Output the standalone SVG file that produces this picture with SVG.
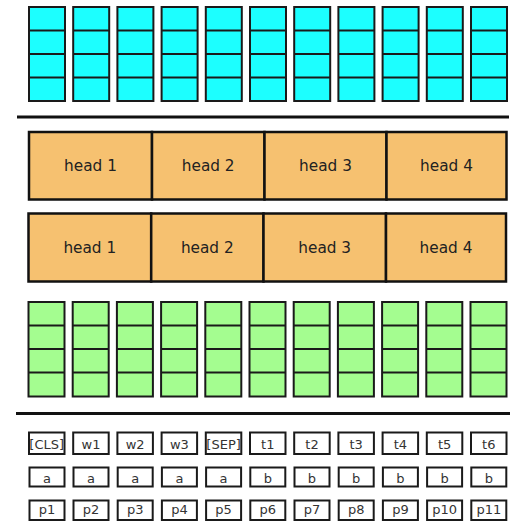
<svg xmlns="http://www.w3.org/2000/svg" width="511" height="525" viewBox="0 0 511 525">
<defs>
<style>
.cy{fill:#1cffff;stroke:#1a1a1a;stroke-width:2}
.gr{fill:#a4fd90;stroke:#1a1a1a;stroke-width:2}
.ln{stroke:#1a1a1a;stroke-width:2}
.hd{fill:#f6c170;stroke:#111;stroke-width:2.5}
.tk{fill:#fff;stroke:#1a1a1a;stroke-width:2}
.ht{font-family:"DejaVu Sans",sans-serif;font-size:15.3px;fill:#222;text-anchor:middle}
.tt{font-family:"DejaVu Sans",sans-serif;font-size:13px;fill:#333;text-anchor:middle}
.sep{stroke:#111;stroke-width:3}
</style>
<g id="cyancol">
<rect class="cy" x="0" y="0" width="36" height="94"/>
<path class="ln" d="M0 23.5H36M0 47H36M0 70.5H36"/>
</g>
<g id="greencol">
<rect class="gr" x="0" y="0" width="36" height="94.5"/>
<path class="ln" d="M0 23.5H36M0 47H36M0 70.5H36"/>
</g>
</defs>
<rect width="511" height="525" fill="#fff"/>
<g id="cyan-layer">
<use id="c1" href="#cyancol" x="29" y="7"/>
<use id="c2" href="#cyancol" x="73.2" y="7"/>
<use id="c3" href="#cyancol" x="117.4" y="7"/>
<use id="c4" href="#cyancol" x="161.6" y="7"/>
<use id="c5" href="#cyancol" x="205.8" y="7"/>
<use id="c6" href="#cyancol" x="250" y="7"/>
<use id="c7" href="#cyancol" x="294.2" y="7"/>
<use id="c8" href="#cyancol" x="338.4" y="7"/>
<use id="c9" href="#cyancol" x="382.6" y="7"/>
<use id="c10" href="#cyancol" x="426.8" y="7"/>
<use id="c11" href="#cyancol" x="471" y="7"/>
</g>
<g id="separators">
<line class="sep" x1="17" y1="117" x2="509" y2="117"/>
<line class="sep" x1="16" y1="413.5" x2="510" y2="413.5"/>
</g>
<g id="heads-row1">
<g id="h1a"><rect class="hd" x="29" y="132" width="123" height="67.5"/><text class="ht" x="90.5" y="171">head 1</text></g>
<g id="h2a"><rect class="hd" x="152" y="132" width="112.5" height="67.5"/><text class="ht" x="208.2" y="171">head 2</text></g>
<g id="h3a"><rect class="hd" x="264.5" y="132" width="122" height="67.5"/><text class="ht" x="325.5" y="171">head 3</text></g>
<g id="h4a"><rect class="hd" x="386.5" y="132" width="120" height="67.5"/><text class="ht" x="446.5" y="171">head 4</text></g>
</g>
<g id="heads-row2">
<g id="h1b"><rect class="hd" x="28.5" y="213.5" width="122.7" height="68"/><text class="ht" x="89.8" y="252.5">head 1</text></g>
<g id="h2b"><rect class="hd" x="151.2" y="213.5" width="112.3" height="68"/><text class="ht" x="207.3" y="252.5">head 2</text></g>
<g id="h3b"><rect class="hd" x="263.5" y="213.5" width="122.5" height="68"/><text class="ht" x="324.7" y="252.5">head 3</text></g>
<g id="h4b"><rect class="hd" x="386" y="213.5" width="120" height="68"/><text class="ht" x="446" y="252.5">head 4</text></g>
</g>
<g id="green-layer">
<use id="g1" href="#greencol" x="28.5" y="302"/>
<use id="g2" href="#greencol" x="72.7" y="302"/>
<use id="g3" href="#greencol" x="116.9" y="302"/>
<use id="g4" href="#greencol" x="161.1" y="302"/>
<use id="g5" href="#greencol" x="205.3" y="302"/>
<use id="g6" href="#greencol" x="249.5" y="302"/>
<use id="g7" href="#greencol" x="293.7" y="302"/>
<use id="g8" href="#greencol" x="337.9" y="302"/>
<use id="g9" href="#greencol" x="382.1" y="302"/>
<use id="g10" href="#greencol" x="426.3" y="302"/>
<use id="g11" href="#greencol" x="470.5" y="302"/>
</g>
<g id="tokens">
<g id="t-cls"><rect class="tk" x="29" y="432.5" width="35.5" height="21.5"/><text class="tt" x="46.7" y="449">[CLS]</text></g>
<g id="t-w1"><rect class="tk" x="73.2" y="432.5" width="35.5" height="21.5"/><text class="tt" x="91" y="449">w1</text></g>
<g id="t-w2"><rect class="tk" x="117.4" y="432.5" width="35.5" height="21.5"/><text class="tt" x="135.2" y="449">w2</text></g>
<g id="t-w3"><rect class="tk" x="161.6" y="432.5" width="35.5" height="21.5"/><text class="tt" x="179.4" y="449">w3</text></g>
<g id="t-sep"><rect class="tk" x="205.8" y="432.5" width="35.5" height="21.5"/><text class="tt" x="223.6" y="449">[SEP]</text></g>
<g id="t-t1"><rect class="tk" x="250" y="432.5" width="35.5" height="21.5"/><text class="tt" x="267.8" y="449">t1</text></g>
<g id="t-t2"><rect class="tk" x="294.2" y="432.5" width="35.5" height="21.5"/><text class="tt" x="312" y="449">t2</text></g>
<g id="t-t3"><rect class="tk" x="338.4" y="432.5" width="35.5" height="21.5"/><text class="tt" x="356.2" y="449">t3</text></g>
<g id="t-t4"><rect class="tk" x="382.6" y="432.5" width="35.5" height="21.5"/><text class="tt" x="400.4" y="449">t4</text></g>
<g id="t-t5"><rect class="tk" x="426.8" y="432.5" width="35.5" height="21.5"/><text class="tt" x="444.6" y="449">t5</text></g>
<g id="t-t6"><rect class="tk" x="471" y="432.5" width="35.5" height="21.5"/><text class="tt" x="488.8" y="449">t6</text></g>

<g id="s1"><rect class="tk" x="29.5" y="467.5" width="35" height="19"/><text class="tt" x="47" y="483">a</text></g>
<g id="s2"><rect class="tk" x="73.5" y="467.5" width="35" height="19"/><text class="tt" x="91" y="483">a</text></g>
<g id="s3"><rect class="tk" x="117.7" y="467.5" width="35" height="19"/><text class="tt" x="135.2" y="483">a</text></g>
<g id="s4"><rect class="tk" x="161.9" y="467.5" width="35" height="19"/><text class="tt" x="179.4" y="483">a</text></g>
<g id="s5"><rect class="tk" x="206.1" y="467.5" width="35" height="19"/><text class="tt" x="223.6" y="483">a</text></g>
<g id="s6"><rect class="tk" x="250.3" y="467.5" width="35" height="19"/><text class="tt" x="267.8" y="483">b</text></g>
<g id="s7"><rect class="tk" x="294.5" y="467.5" width="35" height="19"/><text class="tt" x="312" y="483">b</text></g>
<g id="s8"><rect class="tk" x="338.7" y="467.5" width="35" height="19"/><text class="tt" x="356.2" y="483">b</text></g>
<g id="s9"><rect class="tk" x="382.9" y="467.5" width="35" height="19"/><text class="tt" x="400.4" y="483">b</text></g>
<g id="s10"><rect class="tk" x="427.1" y="467.5" width="35" height="19"/><text class="tt" x="444.6" y="483">b</text></g>
<g id="s11"><rect class="tk" x="471.3" y="467.5" width="35" height="19"/><text class="tt" x="488.8" y="483">b</text></g>

<g id="p1"><rect class="tk" x="29.5" y="500.5" width="35" height="19.5"/><text class="tt" x="47" y="514">p1</text></g>
<g id="p2"><rect class="tk" x="73.5" y="500.5" width="35" height="19.5"/><text class="tt" x="91" y="514">p2</text></g>
<g id="p3"><rect class="tk" x="117.7" y="500.5" width="35" height="19.5"/><text class="tt" x="135.2" y="514">p3</text></g>
<g id="p4"><rect class="tk" x="161.9" y="500.5" width="35" height="19.5"/><text class="tt" x="179.4" y="514">p4</text></g>
<g id="p5"><rect class="tk" x="206.1" y="500.5" width="35" height="19.5"/><text class="tt" x="223.6" y="514">p5</text></g>
<g id="p6"><rect class="tk" x="250.3" y="500.5" width="35" height="19.5"/><text class="tt" x="267.8" y="514">p6</text></g>
<g id="p7"><rect class="tk" x="294.5" y="500.5" width="35" height="19.5"/><text class="tt" x="312" y="514">p7</text></g>
<g id="p8"><rect class="tk" x="338.7" y="500.5" width="35" height="19.5"/><text class="tt" x="356.2" y="514">p8</text></g>
<g id="p9"><rect class="tk" x="382.9" y="500.5" width="35" height="19.5"/><text class="tt" x="400.4" y="514">p9</text></g>
<g id="p10"><rect class="tk" x="427.1" y="500.5" width="35" height="19.5"/><text class="tt" x="444.6" y="514">p10</text></g>
<g id="p11"><rect class="tk" x="471.3" y="500.5" width="35" height="19.5"/><text class="tt" x="488.8" y="514">p11</text></g>
</g>
</svg>
